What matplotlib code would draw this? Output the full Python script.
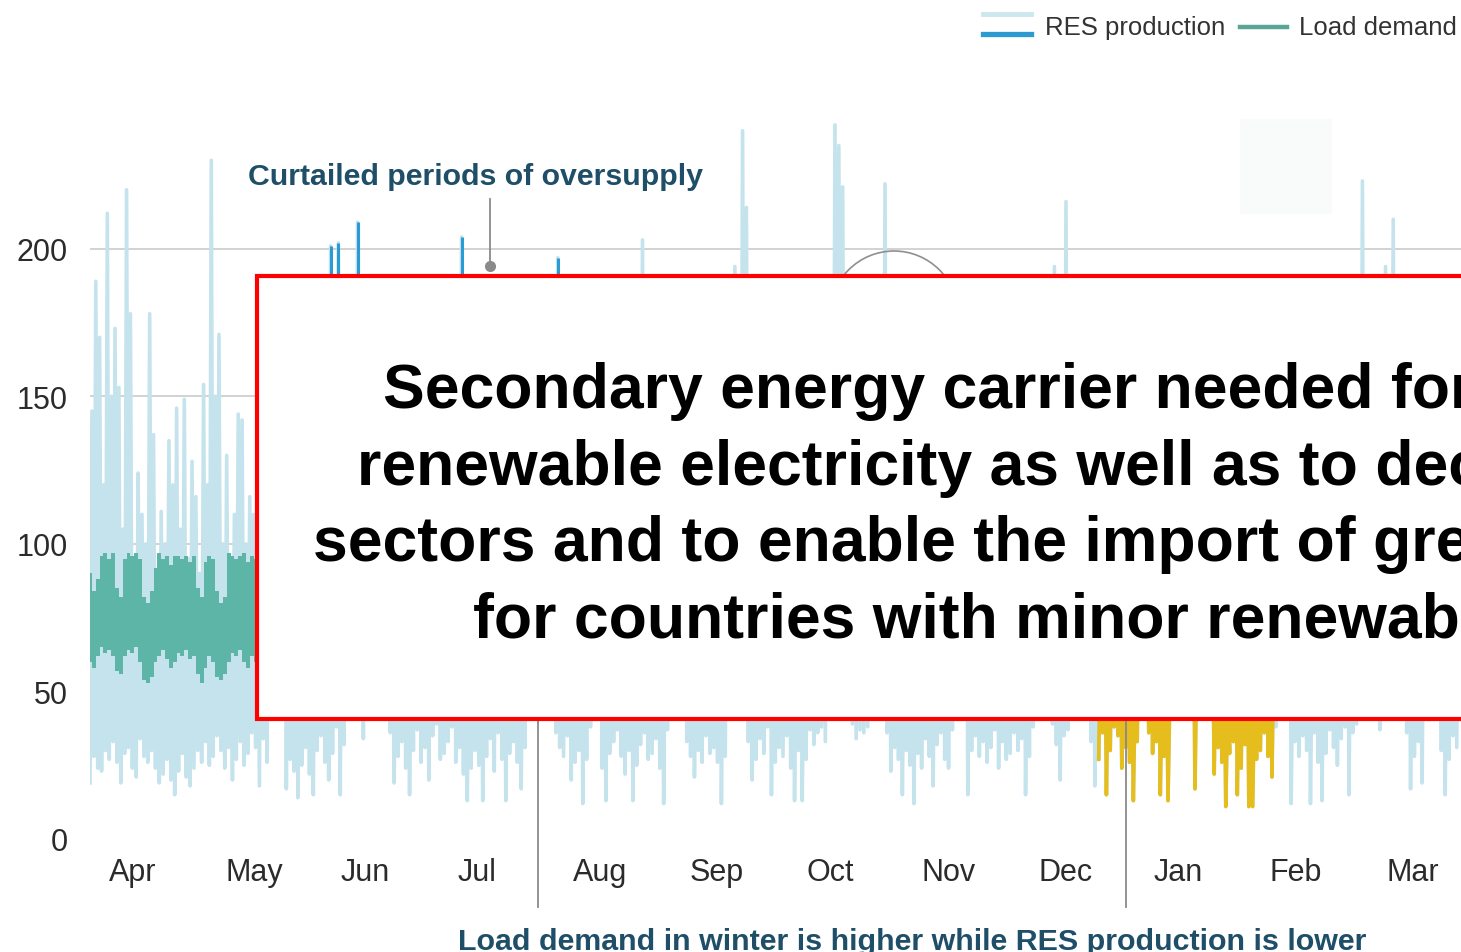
import numpy as np
import matplotlib.pyplot as plt
from matplotlib.patches import Rectangle, Ellipse
from matplotlib.lines import Line2D

plt.rcParams['font.family'] = ['Liberation Sans', 'DejaVu Sans']

W, H = 1461, 953

# ---------------- data (one value per day, day 0 = 1 Apr) ----------------
months = ['Apr', 'May', 'Jun', 'Jul', 'Aug', 'Sep', 'Oct', 'Nov', 'Dec', 'Jan', 'Feb', 'Mar']
y_ticks = [0, 50, 100, 150, 200]

# RES production: nightly minimum and daily maximum
res_trough = [
    19, 28, 24, 23, 30, 27, 33, 26, 19, 29,  31, 24, 21, 34, 28, 26, 30, 24, 19, 22,
    27, 20, 15, 23, 29, 21, 18, 24, 30, 26,  33, 25, 28, 35, 30, 24, 31, 20, 27, 33,
    25, 29, 36, 31, 18, 34, 26, 48, 55, 46,  44, 17, 27, 23, 14, 25, 31, 22, 15, 30,
    35, 26, 20, 29, 38, 15, 32, 47, 52, 60,  45, 34, 50, 62, 55, 48, 58, 44, 36, 19,
    28, 33, 24, 15, 30, 37, 26, 31, 20, 35,  39, 27, 29, 33, 38, 26, 31, 22, 13, 24,
    30, 25, 13, 28, 34, 23, 36, 27, 13, 29,  33, 26, 17, 31, 42, 50, 58, 47, 53, 45,
    41, 36, 31, 28, 35, 20, 26, 30, 12, 27,  38, 46, 43, 24, 13, 29, 33, 37, 28, 22,
    30, 13, 25, 32, 36, 27, 29, 34, 24, 12,  37, 41, 49, 52, 44, 33, 28, 21, 30, 26,
    35, 29, 31, 26, 12, 28, 44, 51, 63, 57,  46, 33, 20, 27, 34, 29, 38, 15, 26, 31,
    28, 35, 24, 13, 30, 13, 27, 37, 32, 36,  38, 33, 48, 56, 62, 70, 58, 45, 39, 34,
    37, 36, 38, 49, 57, 52, 44, 36, 23, 31,  27, 15, 30, 25, 12, 29, 24, 34, 28, 18,
    32, 36, 27, 24, 37, 47, 53, 42, 15, 30,  35, 28, 33, 26, 31, 37, 24, 33, 27, 29,
    36, 30, 34, 15, 28, 38, 52, 61, 55, 43,  39, 32, 20, 35, 37, 44, 58, 66, 51, 42,
    33, 18, 27, 36, 15, 30, 38, 35, 24, 31,  26, 13, 33, 44, 41, 36, 29, 33, 15, 28,
    13, 45, 52, 48, 57, 50, 43, 17, 44, 48,  42, 41, 22, 31, 26, 11, 29, 33, 15, 24,
    32, 11, 11, 27, 30, 36, 28, 21, 38, 47,  55, 46, 12, 33, 28, 35, 30, 12, 36, 26,
    13, 29, 37, 31, 25, 34, 38, 15, 36, 39,  44, 56, 63, 58, 49, 37, 52, 60, 67, 54,
    46, 42, 36, 17, 28, 33, 19, 48, 54, 45,  43, 30, 15, 27, 35, 31,
]
res_peak = [
    145, 189, 170, 120, 212, 150, 173, 153, 105, 220,  178, 95, 124, 110, 100, 178, 137, 90, 111, 100,
    135, 120, 146, 105, 149, 95, 128, 116, 90, 154,  120, 230, 150, 171, 100, 130, 85, 110, 144, 142,
    100, 116, 110, 120, 132, 96, 158, 140, 176, 162,  150, 118, 104, 141, 88, 125, 166, 112, 97, 149,
    172, 138, 201, 160, 202, 121, 155, 184, 178, 209,  186, 143, 168, 181, 175, 157, 170, 149, 126, 92,
    117, 140, 109, 85, 128, 152, 119, 137, 98, 145,  163, 121, 134, 150, 171, 127, 204, 110, 82, 106,
    131, 119, 90, 122, 147, 108, 160, 126, 84, 118,  142, 115, 96, 139, 166, 180, 185, 172, 179, 168,
    158, 197, 140, 128, 151, 99, 117, 134, 86, 120,  160, 175, 169, 114, 88, 126, 145, 157, 123, 102,
    138, 90, 113, 203, 155, 121, 130, 148, 109, 83,  152, 170, 182, 176, 165, 141, 125, 101, 132, 118,
    150, 129, 137, 115, 80, 124, 175, 194, 186, 240,  214, 146, 97, 122, 148, 131, 160, 88, 117, 136,
    125, 151, 109, 78, 133, 80, 121, 158, 140, 155,  162, 148, 180, 242, 235, 221, 184, 170, 163, 149,
    158, 154, 161, 176, 183, 178, 222, 153, 104, 137,  120, 82, 131, 111, 74, 126, 108, 147, 123, 90,
    138, 152, 119, 107, 156, 171, 178, 165, 84, 130,  148, 124, 141, 113, 135, 155, 106, 143, 119, 127,
    153, 132, 145, 81, 122, 160, 174, 183, 177, 164,  194, 139, 96, 216, 157, 166, 180, 187, 172, 161,
    142, 88, 74, 90, 58, 77, 92, 85, 70, 81,  76, 52, 83, 95, 86, 90, 79, 84, 55, 73,
    50, 112, 125, 118, 130, 121, 106, 62, 98, 104,  96, 80, 68, 86, 74, 45, 78, 88, 57, 72,
    85, 48, 52, 76, 82, 91, 79, 65, 124, 150,  162, 145, 70, 133, 118, 140, 127, 72, 146, 112,
    78, 121, 150, 131, 109, 143, 158, 86, 147, 160,  223, 176, 182, 179, 165, 142, 194, 184, 210, 172,
    161, 155, 140, 95, 120, 134, 103, 163, 171, 158,  152, 125, 88, 114, 138, 130,
]
curtailed_days = [62, 64, 69, 96, 121]     # peaks cut off (oversupply)
deficit_days = (262, 307)                  # winter stretch where RES < load

# load demand band (daily min / max), first weeks
load_upper = [90, 84, 88, 96, 97, 95, 97, 85, 82, 95, 97, 96, 97, 95, 82, 80, 84, 92, 97, 95,
              96, 93, 96, 96, 95, 96, 94, 96, 85, 82, 94, 96, 95, 84, 80, 82, 97, 96, 95, 96,
              97, 94, 96, 95, 96, 92]
load_lower = [60, 58, 62, 65, 63, 64, 62, 57, 56, 62, 64, 63, 65, 60, 54, 53, 55, 60, 62, 64,
              61, 58, 60, 63, 62, 64, 61, 62, 56, 53, 58, 62, 60, 55, 54, 56, 60, 63, 62, 64,
              60, 58, 62, 60, 61, 59]

# ---------------- layout ----------------
PX_PER_DAY = 3.85
month_px = [133, 254, 365, 477, 600, 717, 830, 949, 1066, 1178, 1296, 1413]


def fx(x):
    return x / W


def fy(y):
    return 1 - y / H


fig = plt.figure(figsize=(W / 100, H / 100), dpi=100)
ax = fig.add_axes([fx(90), 113 / H, 1371 / W, 723 / H])
ax.set_xlim(0, 1371 / PX_PER_DAY)
ax.set_ylim(0, 245)
for s in ax.spines.values():
    s.set_visible(False)

for v in y_ticks[1:]:
    ax.axhline(v, color='#c6c6c6', lw=1.1, zorder=0)

days = np.arange(len(res_peak))
rx = np.column_stack([days, days + 0.5]).ravel()
ry = np.column_stack([res_trough, res_peak]).ravel()
ax.plot(rx, ry, color='#c4e3ed', lw=2.6, zorder=2)

a, b = deficit_days
ax.plot(rx[2 * a:2 * b + 2], ry[2 * a:2 * b + 2], color='#e5bd1c', lw=2.6, zorder=3)

cd = np.array(curtailed_days)
ax.vlines(cd + 0.5, 185, np.array(res_peak)[cd], color='#2b9bd4', lw=2.2, zorder=4)

ld = np.arange(len(load_upper))
ax.fill_between(ld, load_lower, load_upper, step='mid', color='#5cb5a6', lw=0, zorder=5)

ax.set_yticks(y_ticks)
ax.set_xticks([(p - 90) / PX_PER_DAY for p in month_px])
ax.set_xticklabels(months)
ax.tick_params(axis='y', length=0, pad=16, labelsize=22, labelcolor='#2b2b2b')
ax.tick_params(axis='x', length=0, pad=13, labelsize=22, labelcolor='#2b2b2b')

# ---------------- annotations ----------------
note_c = '#1f4e68'
fig.text(fx(248), fy(185), 'Curtailed periods of oversupply', ha='left', va='baseline',
         fontsize=21.8, fontweight='bold', color=note_c)
fig.add_artist(Line2D([fx(490), fx(490)], [fy(200), fy(267)], color='#8a8a8a', lw=1.3))
fig.add_artist(Line2D([fx(490)], [fy(267)], marker='o', ms=7, color='#8a8a8a', lw=0))

for xv in (538, 1126):
    fig.add_artist(Line2D([fx(xv), fx(xv)], [fy(690), fy(908)], color='#8a8a8a', lw=1.3))
fig.text(fx(458), fy(950), 'Load demand in winter is higher while RES production is lower',
         ha='left', va='baseline', fontsize=21.9, fontweight='bold', color=note_c)

fig.add_artist(Ellipse((fx(894), fy(316)), 128 / W, 128 / H, fill=False,
                       ec='#8f8f8f', lw=1.2, zorder=1))
fig.add_artist(Rectangle((fx(1240), fy(215)), 92 / W, 95 / H, fc='#f9fbfb', ec='none', zorder=1))

# legend
fig.add_artist(Line2D([fx(983), fx(1031)], [fy(15), fy(15)], color='#cde7ef', lw=3.5))
fig.add_artist(Line2D([fx(983), fx(1031)], [fy(35), fy(35)], color='#2e9bd0', lw=3.8))
fig.text(fx(1045), fy(28), 'RES production', ha='left', va='center', fontsize=18.5, color='#333333')
fig.add_artist(Line2D([fx(1240), fx(1287)], [fy(27.5), fy(27.5)], color='#5aa595', lw=3.2))
fig.text(fx(1299), fy(28), 'Load demand', ha='left', va='center', fontsize=18.5, color='#333333')

# overlay box
fig.add_artist(Rectangle((fx(257), fy(720)), (1490 - 257) / W, (720 - 277) / H,
                         fc='white', ec='#ff0000', lw=3, zorder=10))
box_lines = [
    (383, 408, 'Secondary energy carrier needed for storage of'),
    (357, 485, 'renewable electricity as well as to decarbonize other'),
    (313, 561, 'sectors and to enable the import of green energy'),
    (473, 638, 'for countries with minor renewable potential'),
]
for x0, yb, txt in box_lines:
    fig.text(fx(x0), fy(yb), txt, ha='left', va='baseline', fontsize=45,
             fontweight='bold', color='black', zorder=11)

fig.savefig('out.png', dpi=100)
